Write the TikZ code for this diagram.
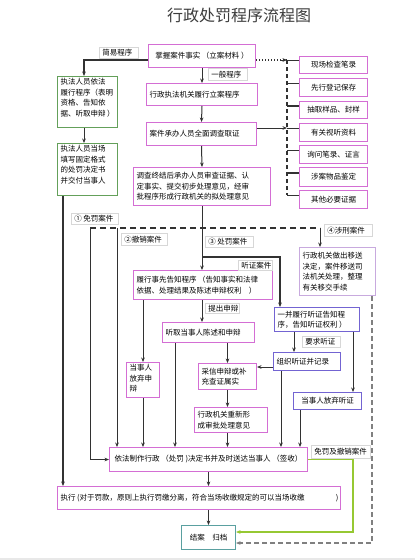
\documentclass[tikz,border=0pt]{standalone}
\usepackage{fontspec}
\setmainfont{Noto Sans CJK SC}
\usetikzlibrary{arrows.meta}
\definecolor{pk}{RGB}{212,110,212}
\definecolor{bv}{RGB}{115,100,210}
\definecolor{gn}{RGB}{100,160,90}
\definecolor{tl}{RGB}{90,160,160}
\definecolor{lp}{RGB}{200,170,222}
\definecolor{lb}{RGB}{215,215,215}
\definecolor{ln}{RGB}{50,50,50}
\definecolor{gl}{RGB}{150,200,50}
\definecolor{titlec}{RGB}{60,60,60}
\newcommand\bxl[3]{\parbox[c][#2pt][c]{#1pt}{\raggedright\leftskip=3pt\relax #3}}
\newcommand\bxt[3]{\parbox[c][#2pt][t]{#1pt}{\raggedright\leftskip=3pt\relax\vspace*{2pt}#3}}
\newcommand\bxc[3]{\parbox[c][#2pt][c]{#1pt}{\centering #3}}
\tikzset{
  basebox/.style={inner sep=0pt, fill=white, line width=1pt, anchor=north west, font=\fontsize{7.5}{10.5}\selectfont},
  pbox/.style={basebox, draw=pk},
  bbox/.style={basebox, draw=bv},
  gbox/.style={basebox, draw=gn},
  tbox/.style={basebox, draw=tl},
  ybox/.style={basebox, draw=lp},
  lbl/.style={basebox, draw=lb, line width=0.6pt},
  con/.style={draw=ln, line width=1pt},
  arr/.style={con, -{Stealth[length=4.5pt,width=3.6pt]}},
  thk/.style={line width=1.6pt},
}
\begin{document}
\begin{tikzpicture}[x=1pt,y=-1pt]
\useasboundingbox (0,0) rectangle (415,560);
\fill[white] (0,0) rectangle (415,560);
\fill[gray!18] (0,557.5) rectangle (415,560);

\node[font=\fontsize{16}{18}\selectfont, text=titlec] (title) at (239,15) {行政处罚程序流程图};

% main column
\node[pbox] (main) at (148,44) {\bxc{107}{23}{掌握案件事实 （立案材料 ）}};
\node[pbox] (lian) at (146,83) {\bxl{111}{22}{行政执法机关履行立案程序}};
\node[pbox] (c3) at (146,122) {\bxl{110}{23}{案件承办人员全面调查取证}};
\node[pbox] (c4) at (133,167) {\bxl{137}{38}{调查终结后承办人员审查证据、认\\定事实、提交初步处理意见，经审\\批程序形成行政机关的拟处理意见}};

% green boxes
\node[gbox] (g1) at (57,76) {\bxt{60}{51}{执法人员依法\\履行程序（表明\\资格、告知依\\据、听取申辩 ）}};
\node[gbox] (g2) at (57,143) {\bxt{60}{52}{执法人员当场\\填写固定格式\\的处罚决定书\\并交付当事人}};

% evidence column
\node[pbox] (xc1) at (299,56) {\bxc{68}{17}{现场检查笔录}};
\node[pbox] (xc2) at (299,78) {\bxc{68}{18}{先行登记保存}};
\node[pbox] (xc3) at (299,101) {\bxc{68}{17}{抽取样品、封样}};
\node[pbox] (xc4) at (299,123) {\bxc{68}{18}{有关视听资料}};
\node[pbox] (xc5) at (299,145) {\bxc{68}{18}{询问笔录、证言}};
\node[pbox] (xc6) at (299,167) {\bxc{68}{19}{涉案物品鉴定}};
\node[pbox] (xc7) at (299,190) {\bxc{68}{18}{其他必要证据}};

% lower part
\node[ybox] (ys) at (299,247) {\bxl{76}{48}{行政机关做出移送\\决定，案件移送司\\法机关处理，整理\\有关移交手续}};
\node[pbox] (gz) at (133,270) {\bxl{139}{29}{履行事先告知程序 （告知事实和法律\\依据、处理结果及陈述申辩权利\quad ）}};
\node[pbox] (tq) at (162,322) {\bxl{92}{20}{听取当事人陈述和申辩}};
\node[pbox] (fq) at (126,362) {\bxt{33}{35}{当事人\\放弃申\\辩}};
\node[pbox] (cx) at (198,363) {\bxl{58}{26}{采信申辩或补\\充查证属实}};
\node[pbox] (cx2) at (194,407) {\bxl{73}{25}{行政机关重新形\\成审批处理意见}};
\node[bbox] (yb) at (274,307) {\bxl{85}{24}{一并履行听证告知程\\序，告知听证权利 ）}};
\node[bbox] (zz) at (273,352) {\bxl{67}{18}{组织听证并记录}};
\node[bbox] (fqt) at (293,392) {\bxc{68}{17}{当事人放弃听证}};
\node[pbox] (zhizuo) at (109,447) {\bxc{198}{24}{依法制作行政 （处罚 )决定书并及时送达当事人 （签收）}};
\node[pbox] (zhixing) at (57,486) {\bxl{283}{23}{执行 (对于罚款，原则上执行罚缴分离，符合当场收缴规定的可以当场收缴\hfill )\hspace*{2pt}}};
\node[tbox] (ja) at (181,525) {\bxc{54}{24}{结案　归档}};

% coordinates
\coordinate (p1) at (84,60);
\coordinate (r1) at (287,60);
\coordinate (r2) at (287,83);
\coordinate (r3) at (287,106);
\coordinate (r4) at (287,128);
\coordinate (r5) at (287,150);
\coordinate (r6) at (287,173);
\coordinate (r7) at (287,195);
\coordinate (gx) at (63,195);
\coordinate (d1) at (90,228);
\coordinate (d2) at (320,228);
\coordinate (d3) at (117,228);
\coordinate (h1) at (202,257);
\coordinate (h2) at (280,257);
\coordinate (xa) at (175,342);
\coordinate (xb) at (294,331);
\coordinate (xc) at (353,331);
\coordinate (yc) at (270,367);
\coordinate (xd) at (281,370);
\coordinate (xe) at (300,409);
\coordinate (g1c) at (353,532);
\coordinate (k1) at (372,295);
\coordinate (k2) at (372,543);

% connectors top
\draw[arr, thk] (main.west |- p1) -| (g1.north -| p1);
\draw[con, dotted, line width=1.2pt] (main.east |- r1) -- (r1);
\draw[arr] ([xshift=-6pt]r1) -- (r1);
\draw[con] (r1) -- (xc1.west |- r1);
\draw[con, dashed, dash pattern=on 4pt off 3pt, line width=1.1pt] (r1) -- (r7);
\draw[con] (r2) -- (xc2.west |- r2);
\draw[con, thk] (r3) -- (xc3.west |- r3);
\draw[con] (r4) -- (xc4.west |- r4);
\draw[con] (r5) -- (xc5.west |- r5);
\draw[con, thk] (r6) -- (xc6.west |- r6);
\draw[con] (r7) -- (xc7.west |- r7);
\draw[arr] (c3.east |- r4) -- (r4);

\draw[arr] (main.south) -- (lian.north);
\draw[arr] (lian.south) -- (c3.north);
\draw[arr] (c3.south) -- (c4.north);
\draw[arr] (g1.south -| p1) -- (g2.north -| p1);
\draw[arr, thk] (g2.south -| gx) -- (zhixing.north -| gx);
\draw[arr] (c4.south) -- (gz.north -| c4.south);

% branches
\draw[con, dashed, dash pattern=on 6pt off 4pt, line width=1.1pt] (d1) -- (d2);
\draw[arr] (d2) -- (ys.north -| d2);
\draw[arr] (d1) |- (zhizuo.west);
\draw[arr] (d3) -- (zhizuo.north -| d3);
\draw[arr, thk] (h1) -- (h2) -- (yb.north -| h2);

\draw[arr] (gz.south -| fq.north) -- (fq.north);
\draw[arr] (gz.south -| c4.south) -- (tq.north -| c4.south);
\draw[arr] (fq.south) -- (zhizuo.north -| fq.south);
\draw[arr] (tq.south -| xa) -- (zhizuo.north -| xa);
\draw[arr] (tq.south -| cx.north) -- (cx.north);
\draw[arr] (cx.south) -- (cx2.north -| cx.south);
\draw[arr] (cx2.south -| cx.south) -- (zhizuo.north -| cx.south);
\draw[arr] (yb.south -| xb) -- (zz.north -| xb);
\draw[arr] (yb.south -| xc) -- (fqt.north -| xc);
\draw[arr] (zz.west |- yc) -- (cx.east |- yc);
\draw[arr] (zz.south -| xd) -- (zhizuo.north -| xd);
\draw[arr] (fqt.south -| xe) -- (zhizuo.north -| xe);
\draw[arr] (zhizuo.south) -- (zhixing.north -| zhizuo.south);
\draw[arr] (zhixing.south -| ja.north) -- (ja.north);
\draw[arr, draw=gl, line width=1.5pt] (zhizuo.east) -| (g1c) -- (ja.east |- g1c);
\draw[arr, draw=gray, dashed, dash pattern=on 5pt off 3pt, line width=1.3pt] (ys.south -| k1) -- (k2) -- (ja.east |- k2);

% labels
\node[lbl] (ljy) at (99,47) {\bxl{39}{11}{简易程序}};
\node[lbl] (lyb) at (208,68) {\bxl{39}{12}{一般程序}};
\node[lbl] (l1) at (71,213) {\bxl{47}{11}{① 免罚案件}};
\node[lbl] (l2) at (121,233) {\bxl{46}{12}{②撤销案件}};
\node[lbl] (l3) at (205,236) {\bxl{48}{11}{③ 处罚案件}};
\node[lbl] (l4) at (324,224) {\bxl{48}{12}{④涉刑案件}};
\node[lbl] (lt) at (238,260) {\bxl{34}{10}{听证案件}};
\node[lbl] (ls) at (205,303) {\bxl{34}{10}{提出申辩}};
\node[lbl] (lq) at (302,336) {\bxl{38}{11}{要求听证}};
\node[lbl] (lm) at (311,445) {\bxl{59}{13}{免罚及撤销案件}};
\end{tikzpicture}
\end{document}
